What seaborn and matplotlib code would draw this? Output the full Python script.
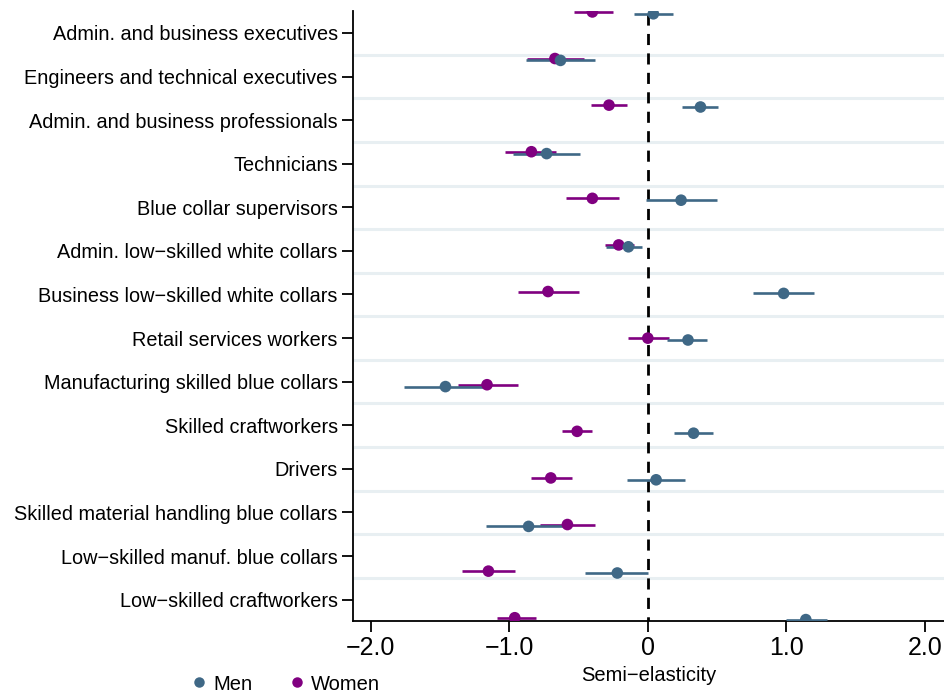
import numpy as np
import pandas as pd
import matplotlib
matplotlib.use('Agg')
import matplotlib.pyplot as plt
import seaborn as sns

# Ocupações (de cima para baixo)
categories = [
    'Admin. and business executives',
    'Engineers and technical executives',
    'Admin. and business professionals',
    'Technicians',
    'Blue collar supervisors',
    'Admin. low\u2212skilled white collars',
    'Business low\u2212skilled white collars',
    'Retail services workers',
    'Manufacturing skilled blue collars',
    'Skilled craftworkers',
    'Drivers',
    'Skilled material handling blue collars',
    'Low\u2212skilled manuf. blue collars',
    'Low\u2212skilled craftworkers',
]

# Coeficientes e intervalos de confiança
men_coef = [0.04, -0.63, 0.38, -0.73, 0.24, -0.14, 0.98, 0.29, -1.46, 0.33, 0.06, -0.86, -0.22, 1.14]
men_lo = [-0.10, -0.88, 0.25, -0.97, -0.01, -0.30, 0.76, 0.14, -1.76, 0.19, -0.15, -1.17, -0.45, 1.00]
men_hi = [0.18, -0.38, 0.51, -0.49, 0.50, -0.04, 1.20, 0.43, -1.16, 0.47, 0.27, -0.56, 0.00, 1.29]

women_coef = [-0.40, -0.67, -0.28, -0.84, -0.40, -0.21, -0.72, 0.00, -1.16, -0.51, -0.70, -0.58, -1.15, -0.96]
women_lo = [-0.53, -0.87, -0.41, -1.03, -0.59, -0.31, -0.94, -0.14, -1.37, -0.62, -0.84, -0.78, -1.34, -1.09]
women_hi = [-0.25, -0.46, -0.15, -0.66, -0.21, -0.10, -0.50, 0.15, -0.94, -0.40, -0.55, -0.38, -0.96, -0.81]

x_ticks = [-2.0, -1.0, 0.0, 1.0, 2.0]
x_tick_labels = ['\u22122.0', '\u22121.0', '0', '1.0', '2.0']
groups = ['Men', 'Women']

cores = {'Men': '#3f6886', 'Women': '#800080'}

# Montar tabela longa
n = len(categories)
pos = np.arange(n)
df = pd.concat([
    pd.DataFrame({'grupo': 'Men', 'coef': men_coef, 'lo': men_lo, 'hi': men_hi, 'y': pos + 0.04}),
    pd.DataFrame({'grupo': 'Women', 'coef': women_coef, 'lo': women_lo, 'hi': women_hi, 'y': pos * 1.0}),
], ignore_index=True)

sns.set_theme(style='white')
plt.rcParams['font.family'] = ['Liberation Sans', 'DejaVu Sans']
plt.rcParams['text.color'] = 'black'
plt.rcParams['axes.labelcolor'] = 'black'
plt.rcParams['xtick.color'] = 'black'
plt.rcParams['ytick.color'] = 'black'

fig = plt.figure(figsize=(9.44, 6.95), dpi=100)
ax = fig.add_axes([353 / 944, 1 - 621 / 695, 1 - 353 / 944, (621 - 11) / 695])

# Intervalos (mulheres primeiro, homens por cima)
for g in ['Women', 'Men']:
    d = df[df['grupo'] == g]
    ax.hlines(d['y'], d['lo'], d['hi'], color=cores[g], lw=1.9, zorder=3)

sns.scatterplot(data=df.iloc[::-1], x='coef', y='y', hue='grupo', hue_order=groups,
                palette=cores, s=70, linewidth=0, ax=ax, zorder=4, legend=True)

# Linha de referência em zero
ax.vlines(0, 0.04, 13.07, colors='black', linestyles=(0, (4, 3)), lw=2, zorder=2)

# Eixo y: rótulos desalinhados como no original (coefplot)
tick_pos = 0.45 + 0.9356 * np.arange(n)
grid_pos = tick_pos[:-1] + 0.9356 / 2
ax.set_yticks(tick_pos)
ax.set_yticklabels(categories, fontsize=14.3)
ax.set_yticks(grid_pos, minor=True)
ax.grid(which='minor', axis='y', color='#e8eff2', lw=2.2, zorder=0)
ax.grid(which='major', axis='both', visible=False)
ax.set_ylim(13.07, -0.02)

ax.set_xlim(-2.127, 2.137)
ax.set_xticks(x_ticks)
ax.set_xticklabels(x_tick_labels, fontsize=18)
ax.set_xlabel('Semi\u2212elasticity', fontsize=14.5, labelpad=4)
ax.set_ylabel('')

ax.tick_params(axis='y', which='major', left=True, length=8, width=1.3, color='black', pad=3)
ax.tick_params(axis='y', which='minor', left=False, length=0)
ax.tick_params(axis='x', bottom=True, length=8, width=1.3, color='black', pad=3)

sns.despine(ax=ax, top=True, right=True)
for s in ['left', 'bottom']:
    ax.spines[s].set_color('black')
    ax.spines[s].set_linewidth(1.3)

# Legenda embaixo à esquerda
handles, labels = ax.get_legend_handles_labels()
ax.get_legend().remove()
ordem = [labels.index(g) for g in groups]
fig.legend([handles[i] for i in ordem], groups, loc='center left',
           bbox_to_anchor=(189 / 944, 1 - 684 / 695), ncol=2, frameon=False,
           fontsize=14.5, handletextpad=0.2, columnspacing=1.7, markerscale=0.9,
           handlelength=1.0, borderpad=0, borderaxespad=0)

fig.savefig('out.png', dpi=100)
